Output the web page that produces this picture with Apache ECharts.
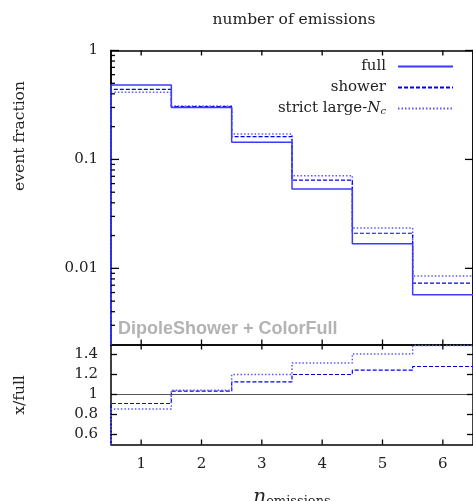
<!DOCTYPE html>
<html>
<head>
<meta charset="utf-8">
<script src="https://cdn.jsdelivr.net/npm/echarts@6/dist/echarts.min.js"></script>
<style>
html,body{margin:0;padding:0;background:#fff;}
#chart{width:473px;height:501px;}
</style>
</head>
<body>
<div id="chart"></div>
<script>
// ---- data ----
const nEmissions = [1, 2, 3, 4, 5, 6];
const fullFrac    = [0.483, 0.300, 0.144, 0.0536, 0.0168, 0.00571];
const showerFrac  = [0.440, 0.305, 0.162, 0.0645, 0.0210, 0.00731];
const strictFrac  = [0.413, 0.310, 0.171, 0.0710, 0.0235, 0.00853];
const showerRatio = [0.910, 1.033, 1.126, 1.200, 1.243, 1.280];
const strictRatio = [0.856, 1.043, 1.200, 1.316, 1.406, 1.490];
const seriesNames = ['full', 'shower', 'strict large-Nc'];
const logMajorTicks = [0.01, 0.1, 1];
const logMinorTicks = [0.003,0.004,0.005,0.006,0.007,0.008,0.009,
                       0.02,0.03,0.04,0.05,0.06,0.07,0.08,0.09,
                       0.2,0.3,0.4,0.5,0.6,0.7,0.8,0.9];
const ratioTicks = [0.6, 0.8, 1, 1.2, 1.4];

// ---- helpers ----
const X_MIN = 0.5, X_MAX = 6.5, LOG_MIN = 0.002, LOG_MAX = 1, R_MIN = 0.5, R_MAX = 1.5;
const edges = nEmissions.map(n => n - 0.5).concat([nEmissions[nEmissions.length - 1] + 0.5]);
function steps(vals, floor) {
  const pts = [[edges[0], floor]];
  vals.forEach((v, i) => { pts.push([edges[i], v]); pts.push([edges[i + 1], v]); });
  return pts;
}
const SERIF = '"DejaVu Serif", serif';
const BLUE_FULL = '#3b3bff', BLUE_SHOWER = '#0000ee', BLUE_STRICT = '#5a5aff';
const styles = [
  {color: BLUE_FULL, width: 1.5, type: 'solid'},
  {color: BLUE_SHOWER, width: 1.2, type: [4, 2]},
  {color: BLUE_STRICT, width: 1.5, type: [1.5, 2]}
];

const G0 = {left: 111, top: 50.5, width: 366, height: 294};
const G1 = {left: 111, top: 344.5, width: 366, height: 100};

function xAx(grid, pos, showLabel) {
  return {
    type: 'value', gridIndex: grid, position: pos, min: X_MIN, max: X_MAX,
    axisLine: {show: true, onZero: false, lineStyle: {color: '#000', width: 1.5}},
    axisTick: {show: false},
    axisLabel: {show: showLabel, customValues: nEmissions, fontFamily: SERIF, fontSize: 15, color: '#222', margin: 12},
    splitLine: {show: false}
  };
}
function yLog(pos, labels) {
  return {
    type: 'log', gridIndex: 0, position: pos, min: LOG_MIN, max: LOG_MAX, logBase: 10,
    axisLine: {show: true, lineStyle: {color: '#000', width: 1.5}},
    axisTick: {show: false},
    axisLabel: {show: labels, customValues: logMajorTicks, fontFamily: SERIF, fontSize: 15, color: '#222', margin: 13,
                formatter: v => String(+v.toPrecision(3))},
    splitLine: {show: false}
  };
}
function yRatio(pos, labels) {
  return {
    type: 'value', gridIndex: 1, position: pos, min: R_MIN, max: R_MAX,
    axisLine: {show: true, lineStyle: {color: '#000', width: 1.5}},
    axisTick: {show: false},
    axisLabel: {show: labels, customValues: ratioTicks, fontFamily: SERIF, fontSize: 15, color: '#222', margin: 13,
                formatter: v => String(+v.toFixed(1))},
    splitLine: {show: false}
  };
}

const topVals = [fullFrac, showerFrac, strictFrac];
const series = [];
topVals.forEach((vals, i) => {
  series.push({
    name: seriesNames[i], type: 'line', xAxisIndex: 0, yAxisIndex: 0,
    data: steps(vals, LOG_MIN), symbol: 'none', lineStyle: styles[i], itemStyle: {color: styles[i].color},
    z: 3 - i, animation: false
  });
});
series.push({
  name: 'shower ratio', type: 'line', xAxisIndex: 2, yAxisIndex: 4,
  data: steps(showerRatio, R_MIN), symbol: 'none', lineStyle: styles[1], itemStyle: {color: styles[1].color},
  animation: false,
  markLine: {silent: true, symbol: 'none', label: {show: false}, animation: false,
             lineStyle: {color: '#555', width: 1, type: 'solid'}, data: [{yAxis: 1}]}
});
series.push({
  name: 'strict ratio', type: 'line', xAxisIndex: 2, yAxisIndex: 4,
  data: steps(strictRatio, R_MIN), symbol: 'none', lineStyle: styles[2], itemStyle: {color: styles[2].color},
  animation: false
});

const textGraphics = [
  {type: 'text', x: 294, y: 20, style: {text: 'number of emissions', font: '15.5px "DejaVu Serif"', fill: '#222',
    textAlign: 'center', textVerticalAlign: 'middle'}},
  {type: 'text', x: 20, y: 136, rotation: Math.PI / 2, style: {text: 'event fraction', font: '15.5px "DejaVu Serif"', fill: '#222',
    textAlign: 'center', textVerticalAlign: 'middle'}},
  {type: 'text', x: 20, y: 395, rotation: Math.PI / 2, style: {text: 'x/full', font: '15.5px "DejaVu Serif"', fill: '#222',
    textAlign: 'center', textVerticalAlign: 'middle'}},
  {type: 'text', x: 118, y: 329, z: 10, style: {text: 'DipoleShower + ColorFull', font: 'bold 18px "Liberation Sans"', fill: '#b3b3b3',
    textAlign: 'left', textVerticalAlign: 'middle'}},
  {type: 'text', x: 292, y: 498, style: {text: '{n|n}{s|emissions}', textAlign: 'center', textVerticalAlign: 'middle',
    rich: {n: {font: 'italic 20px "DejaVu Serif"', fill: '#222'},
           s: {font: '13px "DejaVu Serif"', fill: '#222', padding: [8, 0, 0, 0]}}}}
];

const option = {
  animation: false,
  backgroundColor: '#fff',
  grid: [G0, G1],
  xAxis: [xAx(0, 'bottom', false), xAx(0, 'top', false), xAx(1, 'bottom', true), xAx(1, 'top', false)],
  yAxis: [
    yLog('left', true),
    yLog('left', false),
    yLog('right', false),
    yLog('right', false),
    yRatio('left', true),
    yRatio('right', false)
  ],
  legend: {
    data: seriesNames, orient: 'vertical', right: 14, top: 54, align: 'right',
    itemWidth: 55, itemHeight: 10, itemGap: 6,
    itemStyle: {opacity: 0},
    textStyle: {fontFamily: SERIF, fontSize: 15, color: '#222', padding: [0, 7, 0, 0],
      rich: {
        it: {fontFamily: SERIF, fontStyle: 'italic', fontSize: 15, color: '#222'},
        sub: {fontFamily: SERIF, fontStyle: 'italic', fontSize: 10, color: '#222', padding: [6, 0, 0, 0]}
      }},
    formatter: name => name === 'strict large-Nc' ? 'strict large-{it|N}{sub|c}' : name,
    selectedMode: false
  },
  series: series
};
const chart = echarts.init(document.getElementById('chart'), null, {renderer: 'canvas'});
chart.setOption(option);

// ---- inward tick marks, positioned through the axes' own scales ----
const tickGraphics = [];
const TICK_COLOR = '#000';
try {
  const px = (g, x, y) => chart.convertToPixel({gridIndex: g}, [x, y]);
  const seg = (x1, y1, x2, y2) => ({type: 'line', silent: true, z: 100, zlevel: 0,
    shape: {x1: x1, y1: y1, x2: x2, y2: y2}, style: {stroke: TICK_COLOR, lineWidth: 1.3}});
  const xTicks = (g, yLo, yHi, len) => nEmissions.forEach(v => {
    const a = px(g, v, yHi), b = px(g, v, yLo);
    tickGraphics.push(seg(a[0], a[1], a[0], a[1] + len));
    tickGraphics.push(seg(b[0], b[1], b[0], b[1] - len));
  });
  const yTicks = (g, vals, len, both) => vals.forEach(v => {
    const a = px(g, X_MIN, v), b = px(g, X_MAX, v);
    tickGraphics.push(seg(a[0], a[1], a[0] + len, a[1]));
    if (both) tickGraphics.push(seg(b[0], b[1], b[0] - len, b[1]));
  });
  xTicks(0, LOG_MIN, LOG_MAX, 5);
  yTicks(0, logMajorTicks, 8, true);
  yTicks(0, logMinorTicks, 4, false);
  xTicks(1, R_MIN, R_MAX, 5);
  yTicks(1, ratioTicks, 6, true);
} catch (e) {
  tickGraphics.push({type: 'text', x: 120, y: 200, style: {text: 'ERR ' + e.message, fill: 'red', font: '12px monospace'}});
}
// rebuild the whole option in one go so graphics are created fresh
option.graphic = {elements: textGraphics.concat(tickGraphics)};
chart.setOption(option, true);
</script>
</body>
</html>
